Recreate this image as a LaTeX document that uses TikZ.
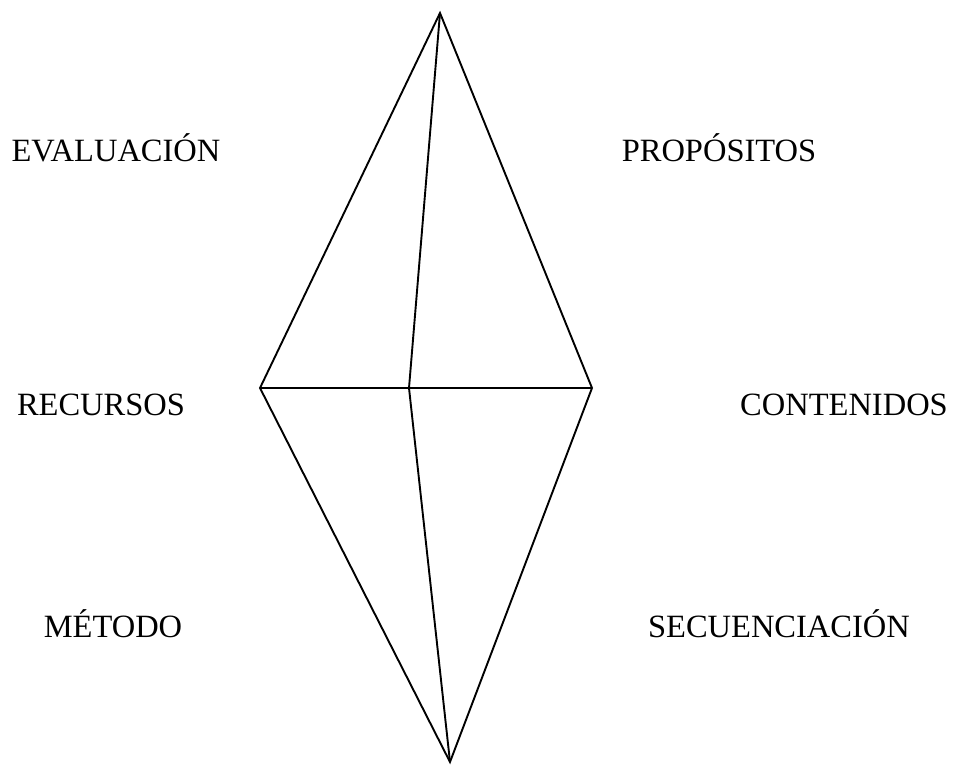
\documentclass[tikz,border=0pt]{standalone}
\usepackage{fontspec}
\setmainfont{Liberation Serif}
\usetikzlibrary{calc}

\begin{document}
\begin{tikzpicture}[x=1pt,y=-1pt,
	edge/.style={line width=1.9,color=black},
	lbl/.style={anchor=base,inner sep=0,font=\fontsize{32.5}{32.5}\selectfont}]

	\useasboundingbox (0,0) rectangle (956,765);

	% vertices of the solid

	\coordinate (top) at (440,13);
	\coordinate (left) at (260,388);
	\coordinate (mid) at (409,388);
	\coordinate (right) at (592,388);
	\coordinate (bot) at (450,762);

	% edges

	\draw[edge] (top) -- (left) -- (bot) -- (right) -- cycle;
	\draw[edge] (top) -- (mid) -- (bot);
	\draw[edge] (left) -- (right);

	% labels

	\node[lbl] (evaluacion) at (116,162) {EVALUACIÓN};
	\node[lbl] (propositos) at (719,162) {PROPÓSITOS};
	\node[lbl] (recursos) at (101,415) {RECURSOS};
	\node[lbl] (contenidos) at (844,415) {CONTENIDOS};
	\node[lbl] (metodo) at (113,637) {MÉTODO};
	\node[lbl] (secuenciacion) at (779,637) {SECUENCIACIÓN};

\end{tikzpicture}
\end{document}
